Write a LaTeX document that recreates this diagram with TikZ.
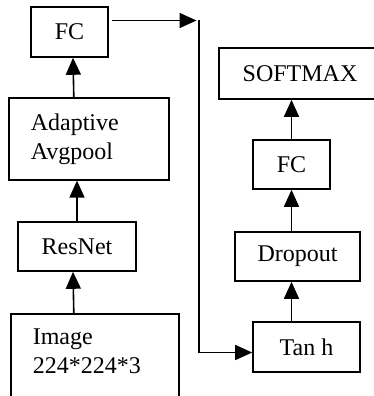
\documentclass[tikz,border=0pt]{standalone}
\usepackage{fontspec}
\setmainfont{Liberation Serif}
\usetikzlibrary{arrows.meta}
\begin{document}
\begin{tikzpicture}[x=1pt,y=-1pt,
  box/.style={draw=black,line width=1.6pt,rectangle,inner sep=0pt,
    font=\fontsize{24}{29}\selectfont},
  txtbox/.style={box,align=left,inner xsep=22pt,anchor=north west},
  arr/.style={line width=1.6pt,-{Triangle[length=17pt,width=15pt]}},
  wire/.style={line width=1.6pt}]
\useasboundingbox (0,0) rectangle (374,396);
\clip (0,0) rectangle (374,396);

% left branch: image features
\node[box,minimum width=77pt,minimum height=50pt] (fca) at (69.5,32) {FC};
\node[txtbox,text width=116pt,minimum height=82pt] (adap) at (8,97) {Adaptive\\Avgpool};
\node[box,minimum width=118pt,minimum height=49pt] (res) at (77,246.5) {ResNet};
\node[txtbox,text width=124pt,minimum height=90pt] (img) at (10,313)
  {Image\\224*224*3\\[-13pt]\mbox{}};

% right branch: classifier head
\node[box,minimum width=162pt,minimum height=51pt] (soft) at (300,73.5) {SOFTMAX};
\node[box,minimum width=77pt,minimum height=49pt] (fcb) at (291.5,164.5) {FC};
\node[box,minimum width=125pt,minimum height=49pt] (drop) at (297.5,256.5) {Dropout};
\node[box,minimum width=107pt,minimum height=50pt] (tanh) at (306.5,347) {Tan h};

% bus between the two branches
\coordinate (bt) at (199,20.5);
\coordinate (bb) at (199,352.5);

\draw[arr] ([xshift=-15pt]adap.north) -- ([xshift=3.5pt]fca.south);
\draw[arr] (res.north) -- (res.north |- adap.south);
\draw[arr] ([xshift=-21pt]img.north) -- ([xshift=-4pt]res.south);

\draw[arr] ([xshift=3pt]fca.east |- bt) -- ([xshift=-2.5pt]bt);
\draw[wire] ([yshift=0.8pt]bt) -- (bb);
\draw[arr] (bb) -- (bb -| tanh.west);

\draw[arr] (tanh.north -| fcb) -- (drop.south -| fcb);
\draw[arr] (drop.north -| fcb) -- (fcb.south);
\draw[arr] (fcb.north) -- (soft.south -| fcb);
\end{tikzpicture}
\end{document}
